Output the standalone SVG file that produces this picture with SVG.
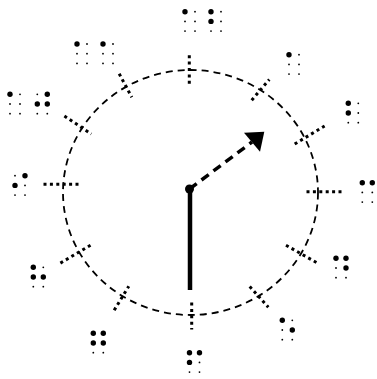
<svg xmlns="http://www.w3.org/2000/svg" xmlns:xlink="http://www.w3.org/1999/xlink" width="377" height="379" viewBox="0 0 377 379">
<style>
.dial{fill:none;stroke:#000;stroke-width:1.8;stroke-dasharray:7 5}
.tick{fill:none;stroke:#000;stroke-width:3;stroke-dasharray:3 3.4}
.on{fill:#000}
.off{fill:#000}
.hour{fill:none;stroke:#000;stroke-width:3.5;stroke-dasharray:9 6}
.minute{fill:none;stroke:#000;stroke-width:4.5}
</style>
<defs>
<g id="dots">
<circle class="off" cx="0" cy="0" r="0.9"/><circle class="off" cx="0" cy="9.7" r="0.9"/><circle class="off" cx="0" cy="19.4" r="0.9"/>
<circle class="off" cx="10" cy="0" r="0.9"/><circle class="off" cx="10" cy="9.7" r="0.9"/><circle class="off" cx="10" cy="19.4" r="0.9"/>
</g>
<g id="d1"><circle class="on" cx="0" cy="0" r="2.7"/></g>
<g id="d2"><circle class="on" cx="0" cy="9.7" r="2.7"/></g>
<g id="d4"><circle class="on" cx="10" cy="0" r="2.7"/></g>
<g id="d5"><circle class="on" cx="10" cy="9.7" r="2.7"/></g>
<g id="cell-a"><use xlink:href="#dots"/><use xlink:href="#d1"/></g>
<g id="cell-b"><use xlink:href="#dots"/><use xlink:href="#d1"/><use xlink:href="#d2"/></g>
<g id="cell-c"><use xlink:href="#dots"/><use xlink:href="#d1"/><use xlink:href="#d4"/></g>
<g id="cell-d"><use xlink:href="#dots"/><use xlink:href="#d1"/><use xlink:href="#d4"/><use xlink:href="#d5"/></g>
<g id="cell-e"><use xlink:href="#dots"/><use xlink:href="#d1"/><use xlink:href="#d5"/></g>
<g id="cell-f"><use xlink:href="#dots"/><use xlink:href="#d1"/><use xlink:href="#d2"/><use xlink:href="#d4"/></g>
<g id="cell-g"><use xlink:href="#dots"/><use xlink:href="#d1"/><use xlink:href="#d2"/><use xlink:href="#d4"/><use xlink:href="#d5"/></g>
<g id="cell-h"><use xlink:href="#dots"/><use xlink:href="#d1"/><use xlink:href="#d2"/><use xlink:href="#d5"/></g>
<g id="cell-i"><use xlink:href="#dots"/><use xlink:href="#d2"/><use xlink:href="#d4"/></g>
<g id="cell-j"><use xlink:href="#dots"/><use xlink:href="#d2"/><use xlink:href="#d4"/><use xlink:href="#d5"/></g>
</defs>
<rect width="377" height="379" fill="#fff"/>
<g id="dial">
<ellipse class="dial" cx="190.5" cy="192.5" rx="127.5" ry="122.5"/>
</g>
<g id="ticks">
<line class="tick" x1="189.3" y1="55.2" x2="189.3" y2="83.8"/>
<line class="tick" x1="251.7" y1="100.2" x2="269.3" y2="79.5"/>
<line class="tick" x1="294.7" y1="144" x2="324.6" y2="126"/>
<line class="tick" x1="306.5" y1="191.7" x2="342.5" y2="191.7"/>
<line class="tick" x1="286" y1="245.2" x2="317.3" y2="263"/>
<line class="tick" x1="249.7" y1="286.5" x2="268.3" y2="307.2"/>
<line class="tick" x1="191.7" y1="302.5" x2="191.7" y2="329.5"/>
<line class="tick" x1="114.2" y1="310.2" x2="128.8" y2="286.2"/>
<line class="tick" x1="60.4" y1="263.1" x2="92.3" y2="244.2"/>
<line class="tick" x1="43.5" y1="184.3" x2="78.8" y2="184.3"/>
<line class="tick" x1="64.4" y1="116" x2="91.3" y2="134"/>
<line class="tick" x1="119.2" y1="73.7" x2="131.8" y2="97.3"/>
</g>
<g id="hands">
<line class="minute" x1="190" y1="189" x2="190" y2="290"/>
<line class="hour" x1="189.5" y1="189" x2="252" y2="142"/>
<polygon points="264.3,131.7 244,132.7 260,151.7" fill="#000"/>
<circle cx="189.5" cy="189" r="4.5" fill="#000"/>
</g>
<g id="label-12"><use xlink:href="#cell-a" x="185" y="11.7"/><use xlink:href="#cell-b" x="211" y="11.7"/></g>
<g id="label-1"><use xlink:href="#cell-a" x="289" y="54.7"/></g>
<g id="label-2"><use xlink:href="#cell-b" x="348.3" y="103.3"/></g>
<g id="label-3"><use xlink:href="#cell-c" x="362.3" y="182.7"/></g>
<g id="label-4"><use xlink:href="#cell-d" x="336" y="258.3"/></g>
<g id="label-5"><use xlink:href="#cell-e" x="282.3" y="320.3"/></g>
<g id="label-6"><use xlink:href="#cell-f" x="189.5" y="352.7"/></g>
<g id="label-7"><use xlink:href="#cell-g" x="93.3" y="333.3"/></g>
<g id="label-8"><use xlink:href="#cell-h" x="33.3" y="267.3"/></g>
<g id="label-9"><use xlink:href="#cell-i" x="15" y="175.7"/></g>
<g id="label-10"><use xlink:href="#cell-a" x="10" y="94.3"/><use xlink:href="#cell-j" x="37.3" y="94.3"/></g>
<g id="label-11"><use xlink:href="#cell-a" x="77" y="44"/><use xlink:href="#cell-a" x="103" y="44"/></g>
</svg>
